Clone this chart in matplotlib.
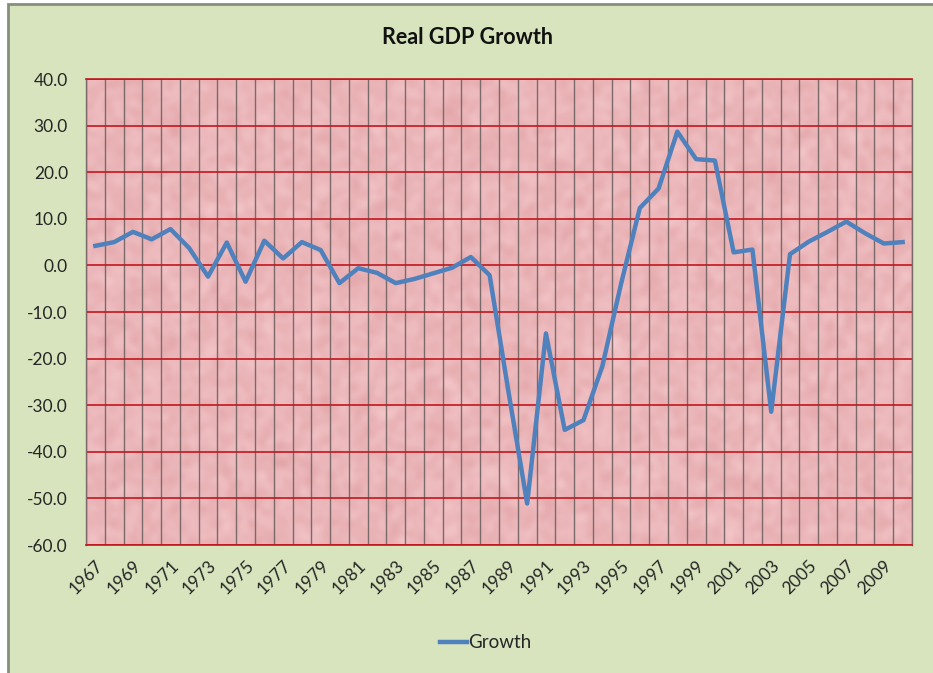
import matplotlib
matplotlib.use("Agg")
import matplotlib.pyplot as plt
from matplotlib.patches import Rectangle
import numpy as np

years = list(range(1967, 2011))
growth = [4.2, 5.0, 7.2, 5.6, 7.8, 3.7, -2.4, 4.9, -3.5, 5.3,
          1.5, 5.0, 3.3, -3.8, -0.6, -1.6, -3.8, -2.9, -1.7, -0.5,
          1.8, -2.1, -27.0, -51.1, -14.6, -35.3, -33.2, -21.7, -4.0, 12.3,
          16.5, 28.7, 22.8, 22.5, 2.8, 3.4, -31.4, 2.4, 5.1, 7.2,
          9.4, 6.9, 4.7, 5.0]
y_ticks = [40, 30, 20, 10, 0, -10, -20, -30, -40, -50, -60]

W, H = 933, 673
fig = plt.figure(figsize=(W / 100, H / 100), dpi=100)
fig.patch.set_facecolor("white")

# chart area frame
frame = Rectangle((8 / W, -0.01), 1.0, 1 - 4 / H + 0.01,
                  transform=fig.transFigure, facecolor="#D7E4BD",
                  edgecolor="#858F7B", linewidth=2, zorder=-10)
fig.patches.append(frame)

ax = fig.add_axes([86 / W, 1 - 545 / H, (912 - 86) / W, (545 - 79) / H])
ax.set_zorder(1)
ax.set_facecolor("#EBB5B8")

# fine mottled paper texture for the plot area
rng = np.random.default_rng(7)
tex = rng.standard_normal((233, 413))
spec = np.fft.fft2(tex)
fy = np.fft.fftfreq(tex.shape[0])[:, None]
fx = np.fft.fftfreq(tex.shape[1])[None, :]
tex = np.real(np.fft.ifft2(spec * np.exp(-(fx ** 2 + fy ** 2) / (2 * 0.09 ** 2))))
tex = (tex - tex.mean()) / tex.std()
base = np.array([235, 182, 185]) / 255.0
img = np.clip(base[None, None, :] + tex[:, :, None] * np.array([0.008, 0.016, 0.016]), 0, 1)
ax.imshow(img, extent=(0, 1, 0, 1), transform=ax.transAxes, aspect="auto",
          interpolation="bilinear", zorder=0)

x = np.arange(len(years))
ax.plot(x, growth, color="#4F81BD", linewidth=3.2, solid_joinstyle="round",
        label="Growth", zorder=5)

ax.set_xlim(-0.5, len(years) - 0.5)
ax.set_ylim(-60, 40)
ax.set_yticks(y_ticks)
ax.set_yticklabels([f"{v:.1f}" for v in y_ticks])

ax.set_xticks(x[::2])
ax.set_xticklabels([str(y) for y in years[::2]], rotation=45, ha="right",
                   va="top", rotation_mode="anchor")
ax.set_xticks(np.arange(len(years) + 1) - 0.5, minor=True)

ax.grid(True, which="minor", axis="x", color="#7A6A6A", linewidth=1.0, zorder=1)
ax.grid(True, which="major", axis="y", color="#C0181E", linewidth=1.2, zorder=1)
ax.grid(False, which="major", axis="x")
ax.set_axisbelow(True)

ax.tick_params(axis="both", which="both", length=0)
ax.tick_params(axis="y", pad=13, labelsize=12.5, labelcolor="#262626")
ax.tick_params(axis="x", pad=9, labelsize=12.5, labelcolor="#262626")
for lab in ax.get_xticklabels() + ax.get_yticklabels():
    lab.set_fontfamily("Lato")

for side in ["top", "bottom"]:
    ax.spines[side].set_color("#C0181E")
    ax.spines[side].set_linewidth(1.2)
for side in ["left", "right"]:
    ax.spines[side].set_color("#7A6A6A")
    ax.spines[side].set_linewidth(1.0)

fig.text(467 / W, 1 - 37 / H, "Real GDP Growth", ha="center", va="center",
         fontsize=15.5, fontweight="bold", fontfamily="Lato", color="#111111")

leg = fig.legend(loc="center", bbox_to_anchor=(486 / W, 1 - 643 / H),
                 frameon=False, handlelength=1.4, handletextpad=0.1,
                 prop={"family": "Lato", "size": 13.5})
for t in leg.get_texts():
    t.set_color("#262626")

fig.savefig("out.png", dpi=100, facecolor=fig.get_facecolor())
